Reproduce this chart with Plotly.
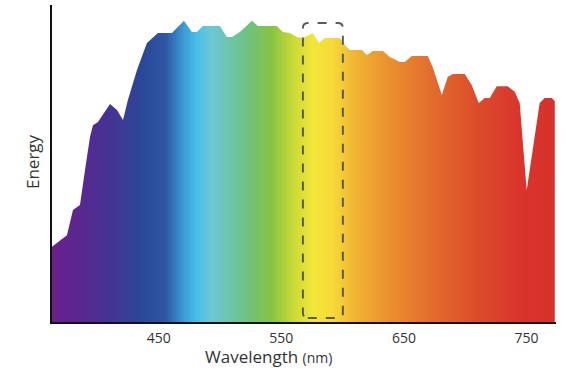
import numpy as np
import plotly.graph_objects as go

# Spectrum outline (wavelength in nm, relative energy)
wavelength = [363, 375.2, 380.1, 385.8, 389.9, 394, 396.4, 400.5, 410.3, 416, 420.9, 424.9,
              432.3, 440.4, 449.4, 460.8, 470.6, 477.1, 481.2, 486.1, 499.9, 505.6, 509.7,
              516.2, 526, 530.9, 546.4, 551.3, 557, 562.7, 567.6, 575.7, 580.6, 585.5,
              597.7, 601.8, 605.9, 615.7, 619.7, 624.6, 632.8, 638.5, 646.6, 650.7, 656.4,
              669.4, 673.5, 680.9, 685.7, 689.8, 699.6, 705.3, 711, 715.9, 720, 725.7,
              734.6, 740.3, 744.4, 750.1, 756.6, 760.7, 764.8, 770.5, 773]
energy = [23.7, 27.4, 35.3, 36.9, 47.9, 58.4, 62.1, 63.1, 68.8, 66.9, 63.7, 70,
          79.5, 88, 91.2, 91.2, 95, 91.5, 91.5, 93.4, 93.4, 89.9, 89.9,
          91.5, 95, 93.4, 93.4, 91.5, 91.2, 89.9, 89.6, 91.2, 88, 89.6,
          89.6, 87.4, 85.8, 85.8, 84.2, 85.5, 85.5, 83.6, 82, 82, 83.9,
          83.9, 80.4, 71.6, 77.3, 78.2, 78.2, 74.8, 69.1, 70.7, 70.7, 74.4,
          74.4, 72.6, 69.1, 41.6, 58.4, 69.1, 70.7, 70.7, 69.7]
tick_values = [450, 550, 650, 750]
tick_labels = ["450", "550", "650", "750"]

WL_MIN, WL_MAX = 363, 774

# spectral colour stops (wavelength, colour)
stops = [(363, "#6b1f8d"), (402, "#4b2f92"), (435, "#2b4697"), (455, "#2d56a3"),
         (471, "#3c9fd9"), (480, "#47bde8"), (492, "#6dc7d8"), (508, "#6ec5a7"),
         (524, "#6fc27a"), (541, "#85c343"), (559, "#c8d935"), (575, "#f3e63a"),
         (590, "#f6dc3a"), (610, "#f1b431"), (638, "#eb8f2e"), (671, "#e36d2c"),
         (712, "#dc4a2c"), (744, "#d9352c"), (774, "#d8302c")]
colorscale = [[(w - WL_MIN) / (WL_MAX - WL_MIN), c] for w, c in stops]

grid = np.linspace(WL_MIN, WL_MAX, 300)

fig = go.Figure()
fig.add_trace(go.Heatmap(x=grid, y=[0, 100], z=[grid, grid], colorscale=colorscale,
                         zmin=WL_MIN, zmax=WL_MAX, showscale=False, zsmooth="best",
                         hoverinfo="skip"))
# white mask above the spectrum curve; right end drops vertically to baseline
mx = [WL_MIN - 5] + wavelength + [wavelength[-1], WL_MAX + 5, WL_MAX + 5, WL_MIN - 5]
my = [energy[0]] + energy + [0, 0, 120, 120]
fig.add_trace(go.Scatter(x=mx, y=my, fill="toself", fillcolor="white", mode="none",
                         hoverinfo="skip", showlegend=False))

# dashed rounded rectangle around ~585 nm
x0, x1, y0, y1 = 567.6, 600.2, 1.3, 94.3
rx, ry = 4, 1.6
path = (f"M {x0+rx},{y0} L {x1-rx},{y0} Q {x1},{y0} {x1},{y0+ry} "
        f"L {x1},{y1-ry} Q {x1},{y1} {x1-rx},{y1} L {x0+rx},{y1} "
        f"Q {x0},{y1} {x0},{y1-ry} L {x0},{y0+ry} Q {x0},{y0} {x0+rx},{y0} Z")
fig.add_shape(type="path", path=path, xref="x", yref="y",
              line=dict(color="#5a5a5a", width=2, dash="dash"), layer="above")

fig.update_layout(
    width=580, height=380,
    margin=dict(l=52, r=24, t=5, b=58),
    plot_bgcolor="white", paper_bgcolor="white",
    showlegend=False,
    font=dict(family="Open Sans, Noto Sans, sans-serif", color="#333333"),
    xaxis=dict(range=[WL_MIN, WL_MAX], tickvals=tick_values, ticktext=tick_labels,
               showgrid=False, zeroline=False, showline=True, linecolor="#111111",
               linewidth=2, ticks="", tickfont=dict(size=14, color="#333333"),
               ticklabelstandoff=2),
    yaxis=dict(range=[0, 100], showticklabels=False, showgrid=False, zeroline=False,
               showline=True, linecolor="#111111", linewidth=2, ticks=""),
    annotations=[
        dict(text="Wavelength <span style='font-size:14px'>(nm)</span>", xref="paper",
             yref="paper", x=(268 - 52) / 504, y=(322 - 356) / 317, xanchor="center",
             yanchor="middle", showarrow=False, font=dict(size=17, color="#333333")),
        dict(text="Energy", xref="paper", yref="paper", x=(32 - 52) / 504,
             y=(322 - 162) / 317, xanchor="center", yanchor="middle", textangle=-90,
             showarrow=False, font=dict(size=17, color="#333333")),
    ],
)

fig.write_html("out.html", config={"displayModeBar": False},
               post_script="document.body.style.margin='0';document.body.style.padding='0';")
